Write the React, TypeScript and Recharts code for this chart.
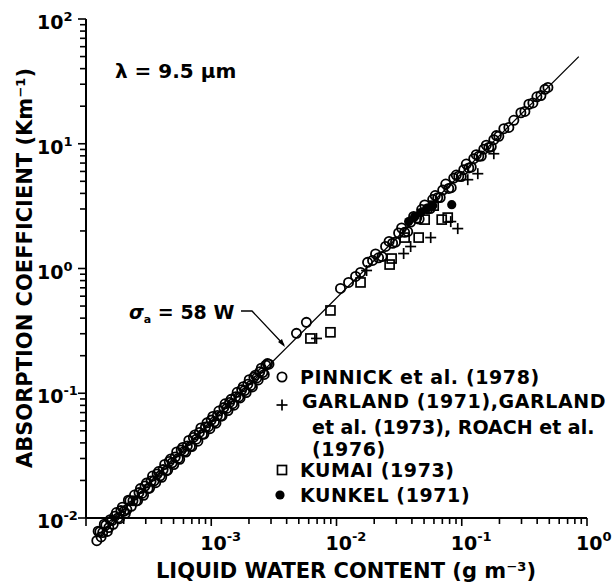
import { ScatterChart, Scatter, XAxis, YAxis, Legend } from "recharts";

// Pinnick et al. (1978) - open circles
const PINNICK_W = [
  1.22e-4, 1.29e-4, 1.36e-4, 1.44e-4, 1.52e-4, 1.61e-4, 1.7e-4, 1.8e-4, 1.9e-4,
  2.01e-4, 2.12e-4, 2.24e-4, 2.37e-4, 2.51e-4, 2.65e-4, 2.8e-4, 2.96e-4,
  3.13e-4, 3.31e-4, 3.5e-4, 3.7e-4, 3.91e-4, 4.13e-4, 4.37e-4, 4.62e-4, 4.88e-4,
  5.16e-4, 5.45e-4, 5.76e-4, 6.09e-4, 6.44e-4, 6.81e-4, 7.2e-4, 7.61e-4,
  8.04e-4, 8.5e-4, 8.99e-4, 9.5e-4, 1.0e-3, 1.06e-3, 1.12e-3, 1.19e-3, 1.26e-3,
  1.33e-3, 1.4e-3, 1.48e-3, 1.57e-3, 1.66e-3, 1.75e-3, 1.85e-3, 1.96e-3,
  2.07e-3, 2.19e-3, 2.31e-3, 2.44e-3, 2.58e-3, 2.73e-3, 2.89e-3,
  1.25e-4, 1.32e-4, 1.4e-4, 1.48e-4, 1.56e-4, 1.65e-4, 1.75e-4, 1.85e-4, 1.95e-4,
  2.06e-4, 2.18e-4, 2.3e-4, 2.44e-4, 2.58e-4, 2.72e-4, 2.88e-4, 3.04e-4, 3.22e-4,
  3.4e-4, 3.6e-4, 3.8e-4, 4.02e-4, 4.25e-4, 4.49e-4, 4.75e-4, 5.02e-4, 5.3e-4,
  5.6e-4, 5.92e-4, 6.26e-4, 6.62e-4, 7.0e-4, 7.4e-4, 7.82e-4, 8.27e-4, 8.74e-4,
  9.24e-4, 9.75e-4, 1.03e-3, 1.09e-3, 1.15e-3, 1.22e-3, 1.29e-3, 1.36e-3, 1.44e-3,
  1.52e-3, 1.61e-3, 1.7e-3, 1.8e-3, 1.9e-3, 2.01e-3, 2.13e-3, 2.25e-3, 2.37e-3,
  2.51e-3, 2.65e-3, 2.81e-3,
  4.79e-3, 5.75e-3, 0.01076, 0.01248, 0.0142, 0.01556, 0.0177,
  0.01941, 0.02168, 0.02466, 0.02805, 0.03133, 0.03499, 0.03908, 0.04365,
  0.04786, 0.05346, 0.05861, 0.06427, 0.07047, 0.0787, 0.0863, 0.09462,
  0.1038, 0.1138, 0.1247, 0.1368, 0.15, 0.1644, 0.1803, 0.1977, 0.2168,
  0.2377, 0.2606, 0.2965, 0.3192, 0.3436, 0.3698, 0.3981, 0.4285, 0.4613, 0.4875,
  0.0205, 0.0231, 0.0263, 0.0296, 0.0331, 0.037, 0.0413, 0.0457, 0.0506, 0.056,
  0.0614, 0.0673, 0.0745, 0.0824, 0.0904, 0.0991, 0.1087, 0.1191, 0.1306, 0.1432,
  0.157, 0.172, 0.189,
];
const PINNICK_S = [
  6.58e-3, 7.78e-3, 7.65e-3, 8.77e-3, 8.38e-3, 9.53e-3, 1.035e-2, 1.002e-2, 1.146e-2,
  1.131e-2, 1.169e-2, 1.377e-2, 1.375e-2, 1.369e-2, 1.598e-2, 1.575e-2, 1.803e-2,
  1.724e-2, 1.978e-2, 1.989e-2, 2.253e-2, 2.177e-2, 2.443e-2, 2.383e-2, 2.841e-2, 2.773e-2,
  3.083e-2, 3.003e-2, 3.508e-2, 3.426e-2, 3.772e-2, 3.753e-2, 4.427e-2, 4.282e-2,
  4.85e-2, 4.684e-2, 5.37e-2, 5.4e-2, 6.09e-2, 5.902e-2, 6.626e-2, 6.557e-2, 7.673e-2,
  7.56e-2, 8.445e-2, 8.241e-2, 9.379e-2, 9.339e-2, 0.1066, 0.1052, 0.1182,
  0.1153, 0.1346, 0.1327, 0.1486, 0.1466, 0.1678, 0.171,
  7.83e-3, 7.05e-3, 8.93e-3, 7.81e-3, 9.68e-3, 8.9e-3, 1.106e-2, 9.87e-3, 1.221e-2,
  1.087e-2, 1.39e-2, 1.241e-2, 1.528e-2, 1.376e-2, 1.72e-2, 1.52e-2, 1.904e-2, 1.737e-2,
  2.169e-2, 1.921e-2, 2.358e-2, 2.122e-2, 2.687e-2, 2.422e-2, 2.975e-2, 2.679e-2, 3.381e-2,
  2.956e-2, 3.674e-2, 3.377e-2, 4.186e-2, 3.735e-2, 4.635e-2, 4.128e-2, 5.277e-2, 4.714e-2,
  5.788e-2, 5.203e-2, 6.512e-2, 5.753e-2, 7.204e-2, 6.581e-2, 8.23e-2, 7.257e-2, 8.937e-2,
  8.023e-2, 0.1018, 9.17e-2, 0.1128, 0.1014, 0.1283, 0.1124, 0.1396, 0.1279,
  0.1587, 0.1414, 0.1728,
  0.302, 0.37, 0.692, 0.773, 0.863, 0.93, 1.12,
  1.16, 1.219, 1.502, 1.594, 1.926, 1.948, 2.358, 2.532,
  2.97, 3.008, 3.569, 3.691, 4.25, 4.382, 5.305, 5.488,
  6.201, 6.402, 7.595, 7.934, 9.048, 9.344, 10.77, 11.47, 13.2,
  13.51, 15.41, 17.72, 18.14, 20.73, 21.24, 23.78, 24.35, 27.3, 28.28,
  1.308, 1.246, 1.647, 1.631, 2.112, 1.974, 2.611, 2.492, 3.228, 3.021,
  3.846, 3.708, 4.753, 4.445, 5.61, 5.461, 6.872, 6.493, 8.181, 7.974,
  9.743, 9.477, 11.62,
];

// Garland (1971), Garland et al. (1973), Roach et al. (1976) - plus signs
const GARLAND_W = [6.92e-3, 0.01738, 0.03436, 0.03908, 0.0565, 0.0929, 0.0817, 0.1117, 0.1343, 0.1803];
const GARLAND_S = [0.275, 0.964, 1.318, 1.5, 1.77, 2.089, 2.377, 5.152, 5.754, 8.318];

// Kumai (1973) - open squares
const KUMAI_W = [6.19e-3, 8.95e-3, 8.95e-3, 0.01556, 0.02655, 0.02754, 0.03499, 0.04529, 0.05058, 0.06918, 0.07727, 0.0597];
const KUMAI_S = [0.275, 0.308, 0.461, 0.773, 1.076, 1.202, 1.77, 1.77, 2.466, 2.466, 2.559, 3.19];

// Kunkel (1971) - filled dots
const KUNKEL_W = [0.03767, 0.04207, 0.04699, 0.05248, 0.05861, 0.08318];
const KUNKEL_S = [2.377, 2.606, 2.805, 3.02, 3.19, 3.25];

// sigma_a = 58 W
const FIT_W = [1.2e-4, 0.86];
const FIT_S = [6.96e-3, 49.9];

const X_DECADES = [1e-4, 1e-3, 1e-2, 1e-1, 1];
const X_EXP = ["", "-3", "-2", "-1", "0"];
const Y_DECADES = [1e-2, 1e-1, 1, 10, 100];
const Y_EXP = ["-2", "-1", "0", "1", "2"];
const MINOR = [2, 3, 4, 5, 6, 7, 8, 9];

const withMinor = (decades: number[]) =>
  decades.flatMap((d, i) => (i < decades.length - 1 ? [d, ...MINOR.map((m) => d * m)] : [d]));
const X_TICKS = withMinor(X_DECADES);
const Y_TICKS = withMinor(Y_DECADES);

const toPoints = (w: number[], s: number[]) => w.map((v, i) => ({ w: v, s: s[i] }));

const FONT = "DejaVu Sans";
const INK = "#000";

const OpenCircle = (p: any) => (
  <circle cx={p.cx} cy={p.cy} r={4.6} fill="none" stroke={INK} strokeWidth={1.8} />
);
const Plus = (p: any) => (
  <g stroke={INK} strokeWidth={1.7}>
    <line x1={p.cx - 5.5} x2={p.cx + 5.5} y1={p.cy} y2={p.cy} />
    <line x1={p.cx} x2={p.cx} y1={p.cy - 5.5} y2={p.cy + 5.5} />
  </g>
);
const Square = (p: any) => (
  <rect x={p.cx - 4.5} y={p.cy - 4.5} width={9} height={9} fill="none" stroke={INK} strokeWidth={1.7} />
);
const Dot = (p: any) => <circle cx={p.cx} cy={p.cy} r={4.6} fill={INK} />;

function XTick(props: any) {
  const { x, y, payload } = props;
  const idx = X_DECADES.findIndex((d) => Math.abs(payload.value / d - 1) < 1e-6);
  const major = idx >= 0;
  return (
    <g>
      <line x1={x} x2={x} y1={y} y2={y + (major ? 8 : 6)} stroke={INK} strokeWidth={1.6} />
      {major && X_EXP[idx] !== "" && (
        <text x={x - 11} y={y + 32} fontFamily={FONT} fontSize={19} fontWeight="bold" fill={INK}>
          10
          <tspan dy={-9} fontSize={13}>
            {X_EXP[idx]}
          </tspan>
        </text>
      )}
    </g>
  );
}

function YTick(props: any) {
  const { x, y, payload } = props;
  const idx = Y_DECADES.findIndex((d) => Math.abs(payload.value / d - 1) < 1e-6);
  const major = idx >= 0;
  return (
    <g>
      <line x1={x} x2={x - (major ? 8 : 6)} y1={y} y2={y} stroke={INK} strokeWidth={1.6} />
      {major && (
        <text x={x - 49} y={y + 10} fontFamily={FONT} fontSize={19} fontWeight="bold" fill={INK}>
          10
          <tspan dy={-8} fontSize={13}>
            {Y_EXP[idx]}
          </tspan>
        </text>
      )}
    </g>
  );
}

const legendText = { fontFamily: FONT, fontSize: 19, fontWeight: "bold" as const, letterSpacing: 0.6, fill: INK };

function LegendBox() {
  const ox = 270;
  const oy = 360;
  return (
    <svg width={346} height={150} style={{ display: "block", overflow: "visible" }}>
      <g transform={`translate(${-ox},${-oy})`}>
        <OpenCircle cx={282} cy={377} />
        <text x={300} y={384} {...legendText}>PINNICK et al. (1978)</text>
        <Plus cx={282} cy={405} />
        <text x={302} y={408} {...legendText}>GARLAND (1971),GARLAND</text>
        <text x={312} y={434} {...legendText} letterSpacing={0}>et al. (1973), ROACH et al.</text>
        <text x={312} y={456} {...legendText}>(1976)</text>
        <Square cx={282} cy={470} />
        <text x={300} y={477} {...legendText}>KUMAI (1973)</text>
        <Dot cx={280} cy={495} />
        <text x={300} y={502} {...legendText}>KUNKEL (1971)</text>
      </g>
    </svg>
  );
}

export default function App() {
  const axisLine = { stroke: INK, strokeWidth: 2 };
  return (
    <div style={{ position: "absolute", left: 0, top: 0, width: 616, height: 586, background: "#fff" }}>
      <style>{`.recharts-surface g[clip-path]{clip-path:none !important}`}</style>
      <ScatterChart width={616} height={586} margin={{ top: 19, right: 29, bottom: 0, left: 0 }}>
        <XAxis
          type="number"
          dataKey="w"
          scale="log"
          domain={[1e-4, 1]}
          allowDataOverflow
          ticks={X_TICKS}
          interval={0}
          tick={(p: any) => <XTick {...p} />}
          tickSize={0}
          tickMargin={0}
          tickLine={false}
          axisLine={axisLine}
          height={68}
        />
        <YAxis
          type="number"
          dataKey="s"
          scale="log"
          domain={[1e-2, 1e2]}
          allowDataOverflow
          ticks={Y_TICKS}
          interval={0}
          tick={(p: any) => <YTick {...p} />}
          tickSize={0}
          tickMargin={0}
          tickLine={false}
          axisLine={axisLine}
          width={86}
        />
        <Scatter
          name="fit"
          data={toPoints(FIT_W, FIT_S)}
          line={{ stroke: INK, strokeWidth: 1.3 }}
          shape={() => <g />}
          legendType="none"
          isAnimationActive={false}
        />
        <Scatter name="PINNICK" data={toPoints(PINNICK_W, PINNICK_S)} shape={OpenCircle} isAnimationActive={false} />
        <Scatter name="GARLAND" data={toPoints(GARLAND_W, GARLAND_S)} shape={Plus} isAnimationActive={false} />
        <Scatter name="KUMAI" data={toPoints(KUMAI_W, KUMAI_S)} shape={Square} isAnimationActive={false} />
        <Scatter name="KUNKEL" data={toPoints(KUNKEL_W, KUNKEL_S)} shape={Dot} isAnimationActive={false} />
        <Legend
          layout="vertical"
          align="center"
          verticalAlign="middle"
          content={() => <LegendBox />}
          wrapperStyle={{ left: 270, top: 360, width: 346 }}
        />
      </ScatterChart>
      <svg
        width={616}
        height={586}
        style={{ position: "absolute", left: 0, top: 0, pointerEvents: "none" }}
        fontFamily={FONT}
        fontWeight="bold"
        fill={INK}
      >
        <text x={346} y={578} textAnchor="middle" fontSize={21}>
          LIQUID WATER CONTENT (g m⁻³)
        </text>
        <text x={32} y={268} textAnchor="middle" fontSize={21} transform="rotate(-90 32 268)">
          ABSORPTION COEFFICIENT (Km⁻¹)
        </text>
        <text x={115} y={78} fontSize={20}>
          λ = 9.5 μm
        </text>
        <text x={129} y={319} fontSize={19}>
          <tspan fontStyle="italic">σ</tspan>
          <tspan fontSize={11} dy={4}>a</tspan>
          <tspan dy={-4}> = 58 W</tspan>
        </text>
        <polyline points="241,311 252,311 284,345" fill="none" stroke={INK} strokeWidth={1.3} />
        <polygon points="285,347 278,342 282,339" fill={INK} />
      </svg>
    </div>
  );
}
